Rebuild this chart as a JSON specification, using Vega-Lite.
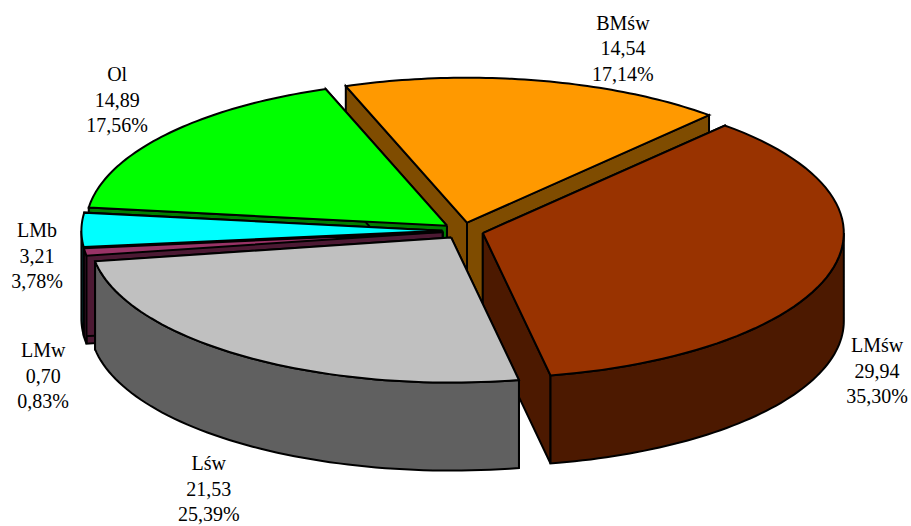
{
"$schema":"https://vega.github.io/schema/vega-lite/v6.json",
"width":911,"height":526,"padding":0,
"autosize":{"type":"none"},
"background":"white",
"view":{"stroke":null},
"data":{"values":[
{"slice":"BMśw","value":14.54,"rank":1},
{"slice":"Ol","value":14.89,"rank":2},
{"slice":"LMb","value":3.21,"rank":3},
{"slice":"LMw","value":0.70,"rank":4},
{"slice":"LMśw","value":29.94,"rank":6},
{"slice":"Lśw","value":21.53,"rank":5}
]},
"transform":[
{"joinaggregate":[{"op":"sum","field":"value","as":"total"}]},
{"window":[{"op":"sum","field":"value","as":"cum"}],"sort":[{"field":"rank","order":"ascending"}]},
{"calculate":"42.1-(datum.cum-datum.value)/datum.total*360","as":"a1"},
{"calculate":"datum.a1-datum.value/datum.total*360","as":"a0"},
{"calculate":"(datum.a0+datum.a1)/2*PI/180","as":"mid"},
{"calculate":"0.057*sin(datum.mid)","as":"ex"},
{"calculate":"0.057*cos(datum.mid)","as":"ey"}
],
"layer":[
{
"transform":[
{"calculate":"['start','end','outer','top']","as":"piece"},
{"flatten":["piece"]},
{"filter":"datum.piece!='outer'||min(datum.a1,-90)>max(datum.a0,-270)"},
{"calculate":"datum.piece=='top'?sequence(0,63):datum.piece=='outer'?sequence(0,123):sequence(0,5)","as":"i"},
{"flatten":["i"]},
{"calculate":"max(datum.a0,-270)","as":"b0"},
{"calculate":"min(datum.a1,-90)","as":"b1"},
{"calculate":"datum.piece=='top'?((datum.i==0||datum.i==62)?0:1):datum.piece=='outer'?1:((datum.i==1||datum.i==2)?1:0)","as":"r"},
{"calculate":"datum.piece=='top'?datum.a0+(datum.i-1)/60*(datum.a1-datum.a0):datum.piece=='start'?datum.a0:datum.piece=='end'?datum.a1:datum.b0+(datum.i<=60?datum.i/60:datum.i<=121?(121-datum.i)/60:0)*(datum.b1-datum.b0)","as":"ang"},
{"calculate":"datum.piece=='top'?0:datum.piece=='outer'?((datum.i>60&&datum.i<=121)?1:0):((datum.i==2||datum.i==3)?1:0)","as":"z"},
{"calculate":"datum.ex+datum.r*sin(datum.ang*PI/180)","as":"px"},
{"calculate":"datum.ey+datum.r*cos(datum.ang*PI/180)-0.607*datum.z","as":"py"},
{"calculate":"datum.slice+(datum.piece=='top'?' top':' side')","as":"face"},
{"calculate":"datum.slice+' '+datum.piece","as":"pid"}
],
"mark":{"type":"line","stroke":"black","strokeWidth":2,"strokeJoin":"miter","clip":false},
"encoding":{
"x":{"field":"px","type":"quantitative","scale":{"domain":[-1.2825,1.241],"nice":false,"zero":false},"axis":null},
"y":{"field":"py","type":"quantitative","scale":{"domain":[-2.036,1.592],"nice":false,"zero":false},"axis":null},
"fill":{"field":"face","type":"nominal","legend":null,"scale":{
"domain":["BMśw top","BMśw side","Ol top","Ol side","LMb top","LMb side","LMw top","LMw side","Lśw top","Lśw side","LMśw top","LMśw side"],
"range":["#FF9900","#7F4C00","#00FF00","#007F00","#00FFFF","#007F7F","#993366","#4C1933","#C0C0C0","#606060","#993300","#4C1900"]}},
"detail":{"field":"pid","type":"nominal"},
"order":{"field":"i","type":"quantitative"}
}
},
{
"transform":[
{"calculate":"{'BMśw':[0.443,1.264],'Ol':[-0.958,0.909],'LMb':[-1.18,-0.167],'LMw':[-1.163,-0.994],'Lśw':[-0.704,-1.775],'LMśw':[1.147,-0.96]}[datum.slice]","as":"lab"},
{"calculate":"datum.lab[0]","as":"lx"},
{"calculate":"datum.lab[1]","as":"ly"},
{"calculate":"datum.slice+'\\n'+replace(format(datum.value,'.2f'),'.',',')+'\\n'+replace(format(datum.value/datum.total*100,'.2f'),'.',',')+'%'","as":"txt"}
],
"mark":{"type":"text","font":"Liberation Serif","fontSize":20,"lineHeight":25.6,"lineBreak":"\n","align":"center","baseline":"middle","color":"black","dy":-24},
"encoding":{
"x":{"field":"lx","type":"quantitative","scale":{"domain":[-1.2825,1.241],"nice":false,"zero":false},"axis":null},
"y":{"field":"ly","type":"quantitative","scale":{"domain":[-2.036,1.592],"nice":false,"zero":false},"axis":null},
"text":{"field":"txt"}
}
}
]
}
